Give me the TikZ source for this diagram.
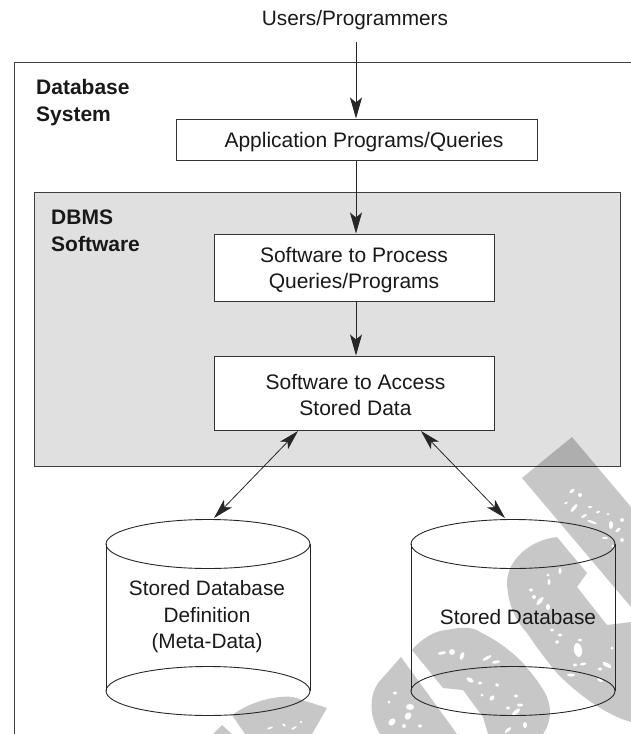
\documentclass[tikz,border=0pt]{standalone}
\usepackage{fontspec}
\setmainfont{Liberation Sans}
\usetikzlibrary{arrows.meta}
\tikzset{
  x=1pt,y=-1pt,
  frame/.style={draw=black!75,line width=1pt},
  txtbox/.style={draw=black!80,line width=1pt,fill=white,align=center,font=\fontsize{21}{26.5}\selectfont,inner sep=0pt,text=black!90},
  lbl/.style={align=left,anchor=north west,font=\bfseries\fontsize{21}{27}\selectfont,inner sep=0pt,text=black!90},
  plain/.style={align=center,font=\fontsize{20.8}{26.5}\selectfont,inner sep=0pt,text=black!90},
  conn/.style={draw=black!85,line width=.9pt,-{Stealth[length=21pt,width=12pt,inset=5pt]}},
  dconn/.style={draw=black!85,line width=.8pt,{Stealth[length=20pt,width=11pt,inset=5pt]}-{Stealth[length=20pt,width=11pt,inset=5pt]}},
  cyl/.style={draw=black!85,line width=.9pt},
  wmark/.style={fill=black,opacity=.22,draw=none},
  speck/.style={fill=white,draw=none},
}
\begin{document}
\begin{tikzpicture}
\useasboundingbox (0,0) rectangle (631,734);
% frames
\draw[frame] (631,62) -- (14,62) -- (14,734);
\path[frame,fill=black!12] (34,192) rectangle (620,466);
% watermark
\fill[wmark] (572,437) -- (522,478) -- (631,607) -- (631,507) -- cycle;
\fill[wmark] (557,537) .. controls (530,540) and (507,560) .. (507,583) .. controls (508,610) and (520,625) .. (527,633) .. controls (540,652) and (550,665) .. (557,673) .. controls (575,692) and (605,715) .. (631,722) -- (631,622) -- (607,625) -- (577,587) -- (587,573) -- cycle;
\fill[wmark] (412,650) .. controls (420,640) and (435,630) .. (447,630) .. controls (465,626) and (475,628) .. (480,632) .. controls (500,642) and (512,652) .. (523,663) .. controls (535,677) and (543,688) .. (547,697) .. controls (552,710) and (551,722) .. (543,734) -- (488,734) -- (483,717) -- (463,690) -- (443,688) -- cycle;
\fill[wmark] (401,657) -- (457,734) -- (380,734) .. controls (368,715) and (370,695) .. (378,683) -- cycle;
\fill[wmark] (232,715) .. controls (250,702) and (275,695) .. (293,697) -- (327,708) -- (312,734) -- (245,734) -- cycle;
\fill[wmark] (222,725) -- (213,734) -- (232,734) -- cycle;
% speckles
\foreach \x/\y/\a/\b/\r in {
 572/491/3/1.5/40, 580/495/2/2/0, 566/503/2/1/30, 574/508/5/1.6/50, 584/516/3/1.3/30, 590/507/2/1/0, 598/512/2/1/20, 592/522/5/1.2/-20, 608/514/1.5/1/0, 611/525/2/4/0, 618/530/3/1.5/40, 605/538/3/1/0, 622/540/2/2/0, 613/546/1.5/1.5/0,
 622/520/2/2/0, 560/571/1.5/3/0, 548/575/1.5/1.5/0, 549/582/1.5/3/0, 531/590/2/1.5/0, 534/597/2/2/0, 540/601/5/2/50, 548/607/2/3/0, 552/630/2/1.5/0, 560/635/2/1.5/0, 557/642/2/1.5/30,
 580/640/2/1.2/0, 578/650/4/7/10, 575/665/2/1.5/0, 583/664/3/1.5/10, 600/669/2/1.5/0, 607/665/5/2/-30, 600/680/3/1.5/-30, 612/648/1.5/1.5/0, 571/675/4/1.5/0,
 442/653/4/1.5/10, 452/652/3/3/0, 462/656/2/4/-20, 487/658/5/1.5/30, 496/662/4/1.5/10, 470/680/4/2/-30, 480/683/2/1.5/0, 497/685/2/1.5/-30, 482/695/1.5/1.5/0, 492/698/2/3/-40, 516/696/2/1.5/0, 520/705/3/1.5/0, 508/708/2/1.5/0, 516/712/5/2/40, 525/725/2/3/0, 508/730/4/1.5/40,
 395/693/2/1.5/0, 389/702/1.5/1.5/0, 410/707/4/3/0, 408/716/3/4/-30, 392/722/3/4/-40, 404/726/2/2/0, 420/726/2/1.5/0,
 270/728/3/1/20, 284/725/2/1/-40, 294/728/3/1/30, 301/722/1.5/1/0}
  { \fill[speck,rotate around={\r:(\x,\y)}] (\x,\y) ellipse [x radius=\a,y radius=\b]; }
% boxes
\node[txtbox,minimum width=361pt,minimum height=41pt] (app) at (356.5,139.5) {\hspace*{15pt}\rule{0pt}{20pt}Application Programs/Queries};
\node[txtbox,minimum width=280pt,minimum height=67pt] (proc) at (354,267.5) {\rule{0pt}{20pt}Software to Process\\Queries/Programs};
\node[txtbox,minimum width=280pt,minimum height=74pt] (acc) at (354,393) {\rule{0pt}{19pt}\hspace*{3pt}Software to Access\\\hspace*{3pt}Stored Data};
\node[plain] (users) at (355,20) {Users/Programmers};
\node[lbl] (dbsys) at (36,79.5) {Database\\System};
\node[lbl] (dbms) at (51,209.5) {DBMS\\Software};
% cylinders
\draw[cyl] (106,544) -- (106,691) (310,544) -- (310,691);
\draw[cyl] (208,544) ellipse [x radius=102,y radius=24.5];
\draw[cyl] (208,691) ellipse [x radius=102,y radius=24.5];
\draw[cyl] (411,544) -- (411,691) (615,544) -- (615,691);
\draw[cyl] (513,544) ellipse [x radius=102,y radius=24.5];
\draw[cyl] (513,691) ellipse [x radius=102,y radius=24.5];
\coordinate (cl) at (214,518);
\coordinate (cr) at (505,518);
\node[plain] (dbdef) at (207,617) {Stored Database\\Definition\\(Meta-Data)};
\node[plain] (db) at (518,617) {Stored Database};
% connectors
\coordinate (ustart) at (356,42);
\draw[conn] (ustart) -- (ustart |- app.north);
\draw[conn] (ustart |- app.south) -- (ustart |- proc.north);
\draw[conn] (ustart |- proc.south) -- (ustart |- acc.north);
\draw[dconn] (298,431) -- (cl);
\draw[dconn] (421,431) -- (cr);
\end{tikzpicture}
\end{document}
